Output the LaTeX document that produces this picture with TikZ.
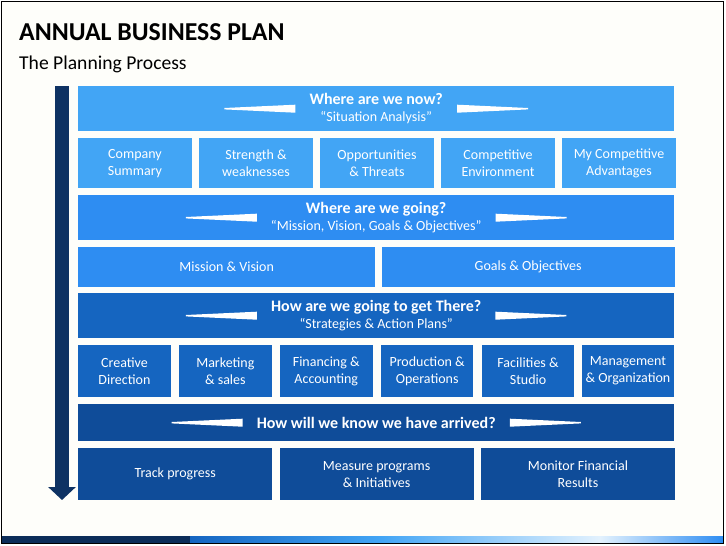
\documentclass[tikz,border=0pt]{standalone}
\usepackage{fontspec}
\setmainfont{Carlito}
\usetikzlibrary{positioning, arrows.meta}

\definecolor{rowa}{HTML}{42A5F5}
\definecolor{rowb}{HTML}{2E8DF2}
\definecolor{rowc}{HTML}{1565C0}
\definecolor{rowd}{HTML}{0F4C99}
\definecolor{navy}{HTML}{0E3263}
\definecolor{paper}{HTML}{FEFEFA}

\tikzset{
  cell/.style={fill=#1, text=white, align=center, inner sep=0pt, anchor=north west,
    font=\fontsize{14}{17}\selectfont},
  hdtext/.style={text=white, align=center, inner sep=0pt,
    font=\fontsize{14}{17}\selectfont},
}
\newcommand\hdtitle[1]{{\fontsize{16}{17}\selectfont\bfseries #1}}
% white tapered marks on both sides of a header text
\newcommand\hdwedges[1]{%
  \fill[white] ([shift={(-14,-4)}]#1.west) -- ++(0,8) -- ++(-71,-3.3) -- ++(0,-1.4) -- cycle;
  \fill[white] ([shift={(14,-4)}]#1.east) -- ++(0,8) -- ++(71,-3.3) -- ++(0,-1.4) -- cycle;}

\begin{document}
\begin{tikzpicture}[x=1pt, y=-1pt]
  \useasboundingbox (0,0) rectangle (726,546);
  \fill[paper] (1.5,1.5) rectangle (723.5,543.5);
  % bottom bar
  \fill[navy!90!black] (2,536) rectangle (190,543);
  \shade[left color=rowc, right color=rowa] (190,536) rectangle (380,543);
  \shade[left color=rowa, right color=rowa!15] (380,536) rectangle (600,543);
  \shade[left color=rowa!15, right color=rowb] (600,536) rectangle (723,543);
  \draw[line width=1pt] (1.5,1.5) rectangle (723.5,543.5);

  \node[anchor=base west, inner sep=0pt, font=\fontsize{25.8}{30}\selectfont\bfseries] (title) at (19,40) {ANNUAL BUSINESS PLAN};
  \node[anchor=base west, inner sep=0pt, font=\fontsize{19.6}{22}\selectfont] (sub) at (19,69) {The Planning Process};

  % process arrow
  \coordinate (atop) at (62,86);
  \coordinate (abot) at (62,500);
  \draw[navy, line width=14pt, -{Triangle[length=13pt, width=27pt]}] (atop) -- (abot);

  % where are we now
  \node[cell=rowa, minimum width=596pt, minimum height=45pt] (h1) at (78,86) {};
  \node[hdtext] (t1) at (h1.center) {\hdtitle{Where are we now?}\\“Situation Analysis”};
  \hdwedges{t1}
  \begin{scope}[every node/.append style={minimum width=113.6pt, minimum height=50pt}]
    \node[cell=rowa] (cs) at (78,138) {Company\\Summary};
    \node[cell=rowa, right=7pt of cs] (sw) {Strength \&\\weaknesses};
    \node[cell=rowa, right=7pt of sw] (ot) {Opportunities\\\& Threats};
    \node[cell=rowa, right=7pt of ot] (ce) {Competitive\\Environment};
    \node[cell=rowa, right=7pt of ce] (ca) {My Competitive\\Advantages};
  \end{scope}

  % where are we going
  \node[cell=rowb, minimum width=596pt, minimum height=45pt] (h2) at (78,195) {};
  \node[hdtext] (t2) at (h2.center) {\hdtitle{Where are we going?}\\“Mission, Vision, Goals \& Objectives”};
  \hdwedges{t2}
  \node[cell=rowb, minimum width=297pt, minimum height=40pt] (mv) at (78,247) {Mission \& Vision};
  \node[cell=rowb, minimum width=293pt, minimum height=40pt, right=6pt of mv] (go) {Goals \& Objectives};

  % how are we going to get there
  \node[cell=rowc, minimum width=596pt, minimum height=45pt] (h3) at (78,293) {};
  \node[hdtext] (t3) at (h3.center) {\hdtitle{How are we going to get There?}\\“Strategies \& Action Plans”};
  \hdwedges{t3}
  \begin{scope}[every node/.append style={minimum width=92.5pt, minimum height=52pt}]
    \node[cell=rowc] (cd) at (78,345) {Creative\\Direction};
    \node[cell=rowc, right=8pt of cd] (ms) {Marketing\\\& sales};
    \node[cell=rowc, right=8pt of ms] (fa) {Financing \&\\Accounting};
    \node[cell=rowc, right=8pt of fa] (po) {Production \&\\Operations};
    \node[cell=rowc, right=8pt of po] (fs) {Facilities \&\\Studio};
    \node[cell=rowc, right=7pt of fs] (mo) {Management\\\& Organization};
  \end{scope}

  % how will we know
  \node[cell=rowd, minimum width=596pt, minimum height=37pt] (h4) at (78,404) {};
  \node[hdtext] (t4) at (h4.center) {\hdtitle{How will we know we have arrived?}};
  \hdwedges{t4}
  \begin{scope}[every node/.append style={minimum width=194pt, minimum height=52pt}]
    \node[cell=rowd] (tp) at (78,448) {Track progress};
    \node[cell=rowd, right=7pt of tp] (mp) {Measure programs\\\& Initiatives};
    \node[cell=rowd, right=7pt of mp] (mf) {Monitor Financial\\Results};
  \end{scope}
\end{tikzpicture}
\end{document}
